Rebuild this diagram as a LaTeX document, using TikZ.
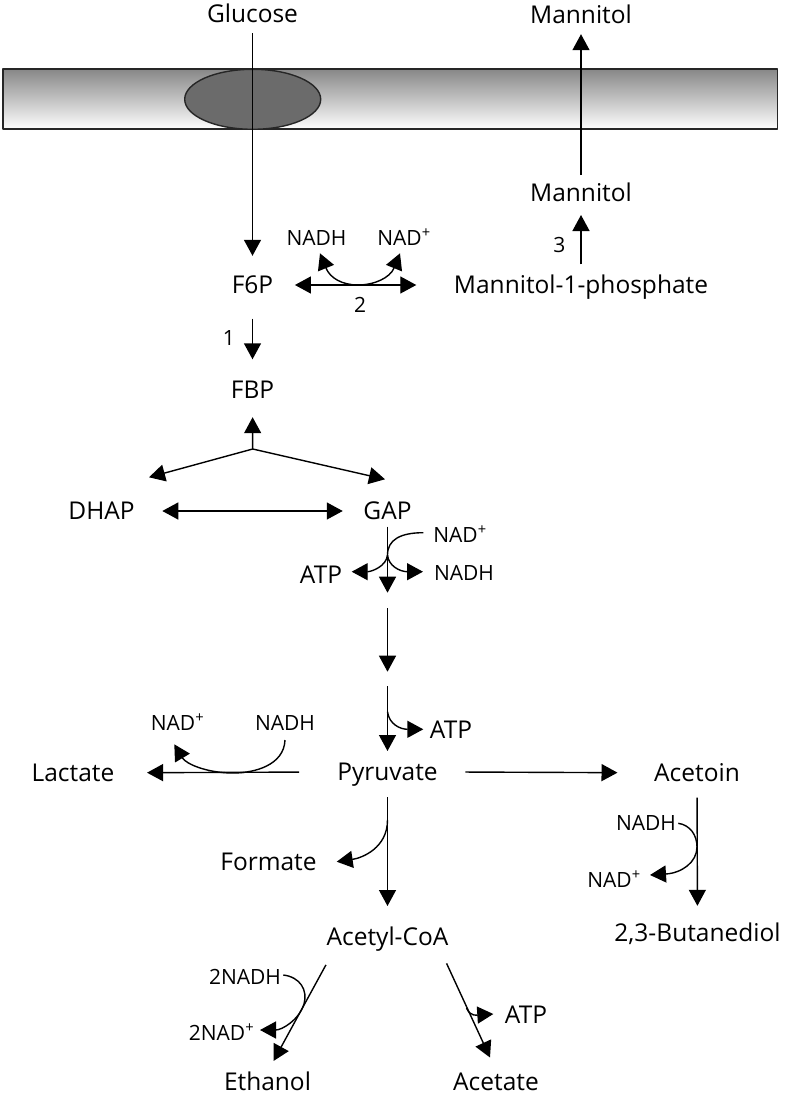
\documentclass[tikz,border=0pt]{standalone}
\usepackage{fontspec}
\setmainfont{Open Sans}
\usetikzlibrary{arrows.meta}
\begin{document}
\begin{tikzpicture}[x=1pt,y=-1pt,>={Triangle[length=16pt,width=17pt]},line width=1.4pt,line join=round,
	met/.style={font=\fontsize{24.5}{28}\selectfont,inner sep=0pt,text height=17pt,text depth=0pt},
	cof/.style={font=\fontsize{21}{24}\selectfont,inner sep=0pt,text height=15pt,text depth=0pt}]
	\useasboundingbox (0,0) rectangle (788,1094);
	% membrane and transporter
	\shade[top color=black!47,bottom color=white] (2.7,69.3) rectangle (777.3,129.3);
	\draw[black!85,line width=1.6pt] (2.7,69.3) rectangle (777.3,129.3);
	\draw[fill=black!58,draw=black!85] (252.7,99.3) ellipse (68 and 30);
	% metabolites
	\node[met] (glc) at (252.5,14) {Glucose};
	\node[met] (mtlout) at (581,15) {Mannitol};
	\node[met] (mtl) at (581,193.3) {Mannitol};
	\node[met] (m1p) at (581,285) {Mannitol-1-phosphate};
	\node[met] (f6p) at (252.5,285) {F6P};
	\node[met] (fbp) at (252.5,390) {FBP};
	\node[met] (dhap) at (101.5,511) {DHAP};
	\node[met] (gap) at (387.5,511) {GAP};
	\node[met] (atpa) at (321,575) {ATP};
	\node[met] (atpb) at (451,730) {ATP};
	\node[met] (pyr) at (387.5,771.7) {Pyruvate};
	\node[met] (lac) at (73,773) {Lactate};
	\node[met] (acn) at (697,773) {Acetoin};
	\node[met] (bdo) at (697.5,933) {2,3-Butanediol};
	\node[met] (for) at (268.5,861.7) {Formate};
	\node[met] (acoa) at (387.5,936.7) {Acetyl-CoA};
	\node[met] (etoh) at (267.5,1081.7) {Ethanol};
	\node[met] (ace) at (496,1081.7) {Acetate};
	\node[met] (atpc) at (526,1015) {ATP};
	% cofactors and enzyme numbers
	\node[cof] (nadha) at (316.5,238) {NADH};
	\node[cof] (nadpa) at (404,238) {NAD\textsuperscript{+}};
	\node[cof] (ezb) at (360,305) {2};
	\node[cof] (eza) at (229,338) {1};
	\node[cof] (ezc) at (559.3,245) {3};
	\node[cof] (nadpb) at (460,535) {NAD\textsuperscript{+}};
	\node[cof] (nadhb) at (464,572.7) {NADH};
	\node[cof] (nadpc) at (177.5,723) {NAD\textsuperscript{+}};
	\node[cof] (nadhc) at (285,723) {NADH};
	\node[cof] (nadhd) at (646,823) {NADH};
	\node[cof] (nadpd) at (614,880) {NAD\textsuperscript{+}};
	\node[cof] (nadhe) at (245,976.7) {2NADH};
	\node[cof] (nadpe) at (221.5,1033) {2NAD\textsuperscript{+}};
	% branch points and gaps in the pathway
	\coordinate (br) at (252.7,449);
	\coordinate (sa) at (387.5,592.7);
	\coordinate (sb) at (387.5,608);
	\coordinate (sc) at (387.5,671.7);
	\coordinate (sd) at (387.5,686);
	% uptake and mannitol export
	\draw[->,shorten <=10pt,shorten >=20pt] (glc) -- (f6p);
	\draw[->,shorten <=9pt,shorten >=10pt] (mtl) -- (mtlout);
	\draw[->,shorten <=11.5pt,shorten >=12.5pt] (m1p) -- (mtl);
	\draw[<->,shorten <=21pt,shorten >=37pt] (f6p) -- (m1p);
	\draw[<->] (320,253.3) .. controls (330,278) and (342,285) .. (358,285)
		.. controls (374,285) and (390,278) .. (400,253.3);
	% upper glycolysis
	\draw[->,shorten <=24.5pt,shorten >=21.5pt] (f6p) -- (fbp);
	\draw[->,shorten >=18pt] (br) -- (fbp);
	\draw[->] (br) -- ([xshift=47.5pt,yshift=24.5pt]dhap.north);
	\draw[->] (br) -- ([xshift=-2.5pt,yshift=22.5pt]gap.north);
	\draw[<->,shorten <=27pt,shorten >=20pt] (dhap) -- (gap);
	% lower glycolysis
	\draw[->,shorten <=6.5pt] (gap.south) -- (sa);
	\draw (423.3,532.7) .. controls (400,532.7) and (387.5,540) .. (387.5,555);
	\draw[->] (387.5,555) .. controls (388.5,566) and (400,571.7) .. (423,571.7);
	\draw[->] (387.5,555) .. controls (386.5,566) and (372,571.7) .. (351.7,571.7);
	\draw[->] (sb) -- (sc);
	\draw[->,shorten >=11.5pt] (sd) -- (pyr.north);
	\draw[->] (387.5,711.7) .. controls (389,724) and (400,729.3) .. (423.3,729.3);
	% pyruvate branches
	\draw[->,shorten <=37.5pt,shorten >=32pt] (pyr) -- (lac);
	\draw[->] (285,740) .. controls (284,765) and (255,773) .. (233,773)
		.. controls (207,773) and (186,764) .. (174.3,744.3);
	\draw[->,shorten <=27pt,shorten >=36pt] (pyr) -- (acn);
	\draw[->,shorten <=15.5pt,shorten >=18pt] (acn) -- (bdo);
	\draw[->] (678.3,823.3) .. controls (690,825) and (697,835) .. (697,847)
		.. controls (697,862) and (682,873) .. (650,875);
	\draw[->,shorten <=16.5pt,shorten >=21.5pt] (pyr) -- (acoa);
	\draw[->] (387.5,820) .. controls (387.5,848) and (362,858) .. (336.7,861.7);
	% acetyl-CoA branches
	\draw[->] ([yshift=-19pt]acoa.south west) -- ([xshift=6pt,yshift=11.5pt]etoh.north);
	\draw[->] (283.3,975) .. controls (300,977) and (308,990) .. (304,1004)
		.. controls (299,1020) and (282,1030) .. (260,1030);
	\draw[->] ([xshift=-2.5pt,yshift=-17.5pt]acoa.south east) -- ([xshift=-6pt,yshift=15pt]ace.north);
	\draw[->] (466.5,1008) .. controls (470,1017) and (478,1015) .. (493.3,1014);
\end{tikzpicture}
\end{document}
